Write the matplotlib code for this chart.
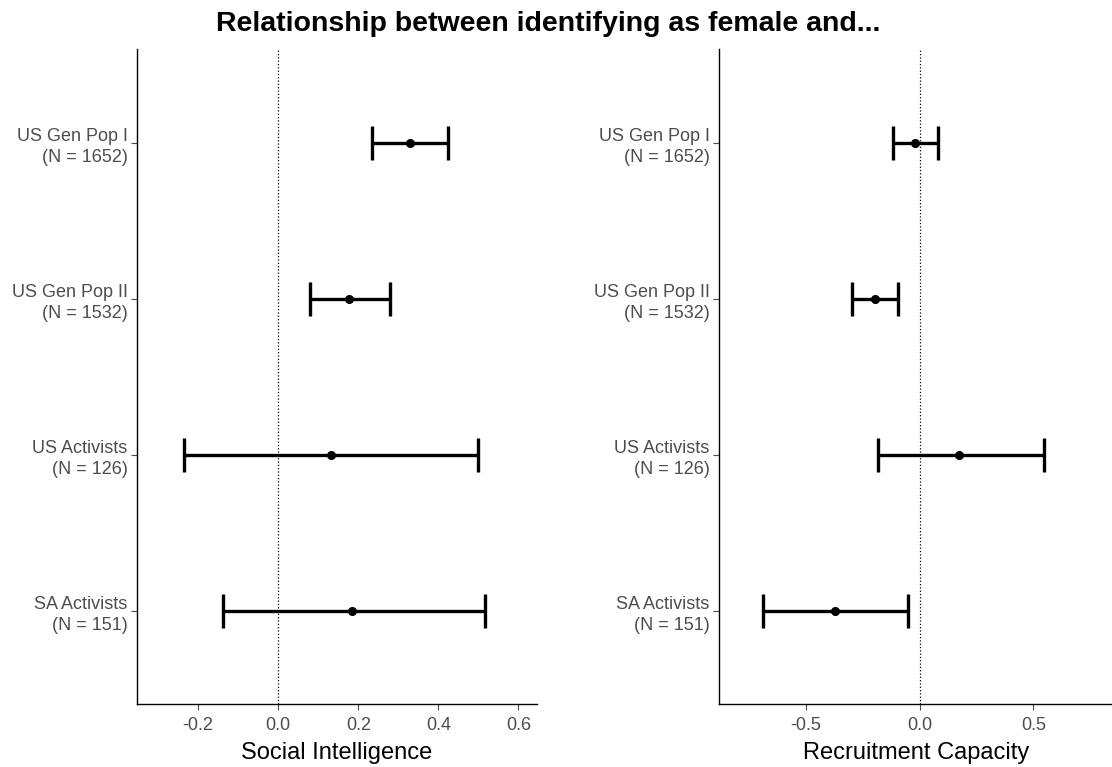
import matplotlib
matplotlib.use("Agg")
import matplotlib.pyplot as plt

plt.rcParams['font.family'] = ['Liberation Sans', 'DejaVu Sans']

# grupos (de arriba hacia abajo)
grupos = ['US Gen Pop I\n(N = 1652)', 'US Gen Pop II\n(N = 1532)',
          'US Activists\n(N = 126)', 'SA Activists\n(N = 151)']

# Social Intelligence
si_est = [0.33, 0.178, 0.133, 0.185]
si_low = [0.234, 0.08, -0.236, -0.139]
si_high = [0.425, 0.28, 0.499, 0.517]

# Recruitment Capacity
rc_est = [-0.02, -0.196, 0.172, -0.371]
rc_low = [-0.116, -0.297, -0.183, -0.69]
rc_high = [0.079, -0.095, 0.545, -0.05]

fig = plt.figure(figsize=(11.12, 7.67), dpi=100)
ax1 = fig.add_axes([0.1235, 0.0817, 0.3592, 0.854])
ax2 = fig.add_axes([0.6469, 0.0817, 0.3531, 0.854])

paneles = [
    (ax1, si_est, si_low, si_high, 'Social Intelligence', (-0.352, 0.646), [-0.2, 0.0, 0.2, 0.4, 0.6]),
    (ax2, rc_est, rc_low, rc_high, 'Recruitment Capacity', (-0.88, 0.845), [-0.5, 0.0, 0.5]),
]

ypos = list(range(1, len(grupos) + 1))

for ax, est, low, high, titulo, lims, ticks in paneles:
    err = [[e - l for e, l in zip(est, low)], [h - e for e, h in zip(est, high)]]
    ax.axvline(0, color='black', linestyle=':', linewidth=0.9, zorder=1)
    ax.errorbar(est, ypos, xerr=err, fmt='o', color='black', ecolor='black',
                elinewidth=2.4, capsize=12, capthick=2.4, markersize=5.5, zorder=3)
    ax.set_xlim(lims)
    ax.set_ylim(4.6, 0.4)
    ax.set_yticks(ypos)
    ax.set_yticklabels(grupos, ha='right', multialignment='right', linespacing=1.3)
    ax.set_xticks(ticks)
    ax.set_xticklabels(['%.1f' % t for t in ticks])
    ax.set_xlabel(titulo, fontsize=17, color='black', labelpad=6)
    ax.spines['top'].set_visible(False)
    ax.spines['right'].set_visible(False)
    for s in ['left', 'bottom']:
        ax.spines[s].set_color('black')
        ax.spines[s].set_linewidth(1.0)
    ax.tick_params(axis='both', colors='#4D4D4D', labelsize=13, length=4, width=0.8)
    ax.tick_params(axis='x', labelcolor='#4D4D4D', pad=5)
    ax.tick_params(axis='y', labelcolor='#4D4D4D', pad=3)

fig.suptitle('Relationship between identifying as female and...', fontsize=20.5,
             fontweight='bold', x=0.493, y=0.986, va='top')

fig.savefig('out.png', dpi=100)
